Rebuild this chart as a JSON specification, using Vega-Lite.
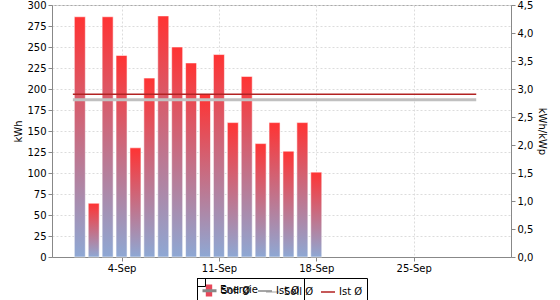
{
  "$schema": "https://vega.github.io/schema/vega-lite/v6.json",
  "width": 459,
  "height": 252,
  "autosize": {"type": "none"},
  "padding": {"left": 52, "top": 5, "right": 49, "bottom": 43},
  "background": "white",
  "config": {
    "font": "DejaVu Sans",
    "view": {"stroke": "#aaaaaa"},
    "axis": {
      "labelFont": "DejaVu Sans",
      "labelFontSize": 10,
      "labelColor": "#000000",
      "titleFont": "DejaVu Sans",
      "titleFontSize": 10,
      "titleFontWeight": "normal",
      "titleColor": "#000000",
      "domainColor": "#888888",
      "tickColor": "#888888",
      "tickSize": 4,
      "labelPadding": 2,
      "gridColor": "#dcdcdc",
      "gridDash": [2, 2]
    },
    "legend": {
      "strokeColor": "#000000",
      "padding": 4,
      "labelFont": "DejaVu Sans",
      "labelFontSize": 10,
      "labelColor": "#000000",
      "labelOffset": 3,
      "columnPadding": 4,
      "symbolSize": 196,
      "symbolOpacity": 1
    }
  },
  "layer": [
    {
      "data": {
        "values": [
          {"date": "2022-09-01", "kwh": 286},
          {"date": "2022-09-02", "kwh": 64},
          {"date": "2022-09-03", "kwh": 286},
          {"date": "2022-09-04", "kwh": 240},
          {"date": "2022-09-05", "kwh": 130},
          {"date": "2022-09-06", "kwh": 213},
          {"date": "2022-09-07", "kwh": 287},
          {"date": "2022-09-08", "kwh": 250},
          {"date": "2022-09-09", "kwh": 231},
          {"date": "2022-09-10", "kwh": 194},
          {"date": "2022-09-11", "kwh": 241},
          {"date": "2022-09-12", "kwh": 160},
          {"date": "2022-09-13", "kwh": 215},
          {"date": "2022-09-14", "kwh": 135},
          {"date": "2022-09-15", "kwh": 160},
          {"date": "2022-09-16", "kwh": 126},
          {"date": "2022-09-17", "kwh": 160},
          {"date": "2022-09-18", "kwh": 101}
        ]
      },
      "mark": {
        "type": "bar",
        "width": 11,
        "fill": {
          "gradient": "linear",
          "x1": 0, "y1": 0, "x2": 0, "y2": 1,
          "stops": [
            {"offset": 0, "color": "#ff3333"},
            {"offset": 1, "color": "#8ea8d4"}
          ]
        },
        "stroke": "#ffffff",
        "strokeOpacity": 0.55,
        "strokeWidth": 1
      },
      "encoding": {
        "x": {
          "field": "date",
          "type": "temporal",
          "scale": {"type": "utc", "padding": 0, "domain": [1661817600000, 1664668800000]},
          "axis": {
            "title": null,
            "grid": true,
            "values": [1662249600000, 1662854400000, 1663459200000, 1664064000000],
            "labelExpr": "utcFormat(datum.value, '%-d-%b')"
          }
        },
        "y": {
          "field": "kwh",
          "type": "quantitative",
          "scale": {"domain": [0, 300], "nice": false},
          "axis": {
            "title": "kWh",
            "grid": true,
            "values": [0, 25, 50, 75, 100, 125, 150, 175, 200, 225, 250, 275, 300],
            "titlePadding": 3
          }
        },
        "color": {
          "datum": "Energie",
          "type": "nominal",
          "scale": {
            "domain": ["Energie", "Soll Ø", "Ist Ø"],
            "range": ["#e8485a", "#c0c0c0", "#b22222"]
          },
          "legend": {"title": null, "orient": "none", "direction": "horizontal", "legendX": 145, "legendY": 273}
        }
      }
    },
    {
      "data": {
        "values": [
          {"series": "Soll Ø", "start": "2022-08-31T12:00:00Z", "end": "2022-09-29T12:00:00Z", "v": 2.81},
          {"series": "Ist Ø", "start": "2022-08-31T12:00:00Z", "end": "2022-09-29T12:00:00Z", "v": 2.905}
        ]
      },
      "mark": {"type": "rule"},
      "encoding": {
        "x": {"field": "start", "type": "temporal", "scale": {"type": "utc"}},
        "x2": {"field": "end"},
        "y": {
          "field": "v",
          "type": "quantitative",
          "scale": {"domain": [0, 4.5], "nice": false},
          "axis": {
            "orient": "right",
            "title": "kWh/kWp",
            "grid": false,
            "values": [0, 0.5, 1, 1.5, 2, 2.5, 3, 3.5, 4, 4.5],
            "labelExpr": "replace(format(datum.value, '.1f'), '.', ',')",
            "titlePadding": 4
          }
        },
        "color": {
          "field": "series",
          "type": "nominal",
          "legend": {"title": null, "orient": "none", "direction": "horizontal", "legendX": 145, "legendY": 273}
        },
        "strokeWidth": {
          "field": "series",
          "type": "nominal",
          "scale": {"type": "ordinal", "domain": ["Energie", "Soll Ø", "Ist Ø"], "range": [0, 3, 1.5]},
          "legend": {"title": null, "orient": "none", "direction": "horizontal", "legendX": 145, "legendY": 273}
        }
      }
    },
    {
      "data": {"values": []},
      "mark": {"type": "point", "filled": true},
      "encoding": {
        "color": {
          "field": "series",
          "type": "nominal",
          "legend": {"title": null, "orient": "none", "direction": "horizontal", "legendX": 145, "legendY": 273}
        },
        "shape": {
          "field": "series",
          "type": "nominal",
          "scale": {
            "domain": ["Energie", "Soll Ø", "Ist Ø"],
            "range": ["M-0.35,-0.75H0.35V0.75H-0.35Z", "stroke", "stroke"]
          },
          "legend": {"title": null, "orient": "none", "direction": "horizontal", "legendX": 145, "legendY": 273}
        },
        "strokeWidth": {
          "field": "series",
          "type": "nominal",
          "legend": {"title": null, "orient": "none", "direction": "horizontal", "legendX": 145, "legendY": 273}
        }
      }
    }
  ],
  "resolve": {"scale": {"y": "independent"}}
}
